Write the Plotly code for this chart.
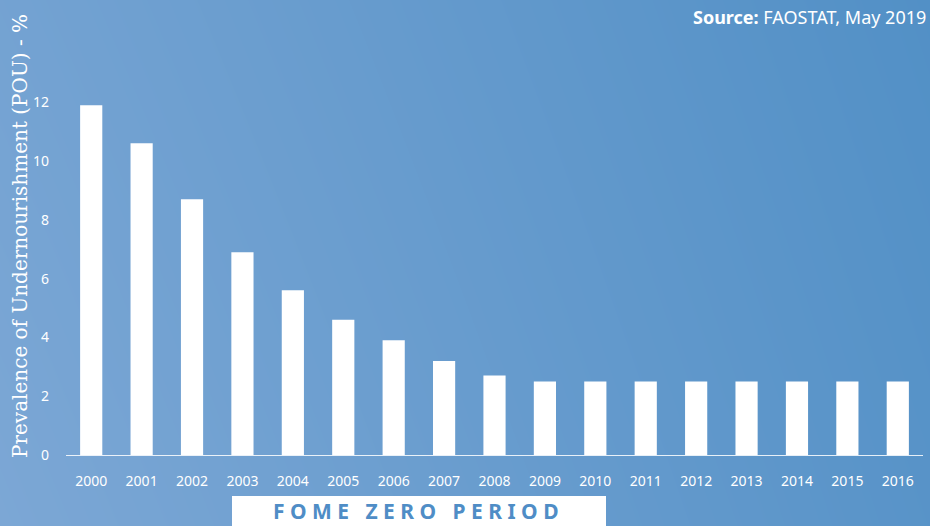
import plotly.graph_objects as go

# data
years = [str(y) for y in range(2000, 2017)]
pou = [11.9, 10.6, 8.7, 6.9, 5.6, 4.6, 3.9, 3.2, 2.7, 2.5, 2.5, 2.5, 2.5, 2.5, 2.5, 2.5, 2.5]
y_ticks = [0, 2, 4, 6, 8, 10, 12]

W, H = 930, 526

fig = go.Figure()

# background gradient (light bottom-left -> darker top-right)
fig.add_trace(go.Heatmap(
    x=[0, 1], y=[0, 1],
    z=[[0.0, 0.85], [0.2, 1.0]],
    zsmooth='best',
    colorscale=[[0, '#7ca7d5'], [1, '#5290c6']],
    showscale=False, hoverinfo='skip',
    xaxis='x', yaxis='y'
))

fig.add_trace(go.Bar(
    x=years, y=pou,
    marker=dict(color='white', line=dict(width=0)),
    xaxis='x2', yaxis='y2',
    hoverinfo='x+y'
))

px0, px1 = 66, 923
py_bottom, py_top = 455, 87.5

fig.update_layout(
    width=W, height=H,
    margin=dict(l=0, r=0, t=0, b=0),
    paper_bgcolor='#6a9bcd',
    plot_bgcolor='rgba(0,0,0,0)',
    showlegend=False,
    bargap=0.56,
    xaxis=dict(domain=[0, 1], range=[0, 1], visible=False, fixedrange=True),
    yaxis=dict(domain=[0, 1], range=[0, 1], visible=False, fixedrange=True),
    xaxis2=dict(
        domain=[px0 / W, px1 / W], anchor='y2',
        type='category', range=[-0.5, 16.5],
        showgrid=False, zeroline=False,
        showline=True, linecolor='rgba(255,255,255,0.85)', linewidth=1,
        ticks='', ticklabelstandoff=13,
        tickfont=dict(family='Noto Sans', size=14, color='white'),
        automargin=False
    ),
    yaxis2=dict(
        domain=[(H - py_bottom) / H, (H - py_top) / H], anchor='x2',
        range=[0, 12.5], tickvals=y_ticks,
        showgrid=False, zeroline=False, showline=False,
        ticks='', ticklabelstandoff=16,
        tickfont=dict(family='Noto Sans', size=14, color='white'),
        automargin=False
    ),
    font=dict(family='Noto Sans', color='white')
)

# y axis title (slab serif in the original)
fig.add_annotation(
    text='Prevalence of Undernourishment (POU) - %',
    xref='paper', yref='paper',
    x=20 / W, y=(H - 236) / H, xanchor='center',
    textangle=-90, showarrow=False,
    font=dict(family='DejaVu Serif', size=20, color='white')
)

# source note
fig.add_annotation(
    text='<b>Source:</b> FAOSTAT, May 2019',
    xref='paper', yref='paper',
    x=928 / W, y=1, xanchor='right', yanchor='top',
    yshift=-3, showarrow=False,
    font=dict(family='Noto Sans', size=18, color='white')
)

# banner at the bottom
fig.add_shape(
    type='rect', xref='paper', yref='paper',
    x0=232 / W, x1=606 / W, y0=0, y1=(H - 496) / H,
    fillcolor='white', line=dict(width=0)
)
fig.add_annotation(
    text='<b>F O M E   Z E R O   P E R I O D</b>',
    xref='paper', yref='paper',
    x=416 / W, y=(H - 511) / H, yanchor='middle',
    showarrow=False,
    font=dict(family='Noto Sans', size=21, color='#4f8dc6')
)

fig.write_html("out.html", config={'displayModeBar': False},
               post_script="document.body.style.margin='0';")
